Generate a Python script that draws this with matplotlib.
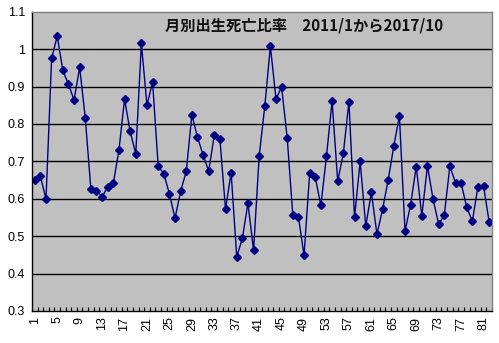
import matplotlib
matplotlib.use("Agg")
import matplotlib.pyplot as plt
import numpy as np

plt.rcParams['font.family'] = ['Liberation Sans', 'DejaVu Sans']

# monthly birth/death ratio, 2011/1 .. 2017/10
months = np.arange(1, 83)
ratio = [
    0.650, 0.660, 0.599, 0.975, 1.035, 0.943, 0.906, 0.864, 0.951, 0.816,
    0.625, 0.622, 0.605, 0.632, 0.641, 0.730, 0.866, 0.780, 0.720, 1.015,
    0.850, 0.912, 0.687, 0.667, 0.613, 0.548, 0.620, 0.673, 0.824, 0.765,
    0.717, 0.674, 0.770, 0.760, 0.572, 0.670, 0.445, 0.494, 0.588, 0.462,
    0.714, 0.847, 1.008, 0.866, 0.899, 0.762, 0.556, 0.551, 0.449, 0.668,
    0.657, 0.582, 0.714, 0.861, 0.647, 0.721, 0.859, 0.550, 0.700, 0.527,
    0.617, 0.505, 0.572, 0.650, 0.741, 0.821, 0.514, 0.584, 0.686, 0.554,
    0.688, 0.599, 0.532, 0.556, 0.688, 0.642, 0.642, 0.577, 0.540, 0.632,
    0.634, 0.538,
]
title = '月別出生死亡比率　2011/1から2017/10'

fig = plt.figure(figsize=(4.99, 3.43), dpi=100)
ax = fig.add_axes([0.0641, 0.0933, 0.9218, 0.8726])
ax.set_facecolor('#c0c0c0')

ax.plot(months, ratio, color='#000080', lw=1.0, marker='D', ms=3.6,
        mfc='#000080', mec='#000080')

ax.set_xlim(0.5, 82.5)
ax.set_ylim(0.3, 1.1)
ax.set_yticks(np.arange(0.3, 1.11, 0.1))
ax.set_yticklabels(['0.3', '0.4', '0.5', '0.6', '0.7', '0.8', '0.9', '1', '1.1'])
for v in np.arange(0.4, 1.01, 0.1):
    ax.axhline(v, color='black', lw=1.0, zorder=0.5)

ax.set_xticks(months[::4])
ax.set_xticklabels([str(m) for m in months[::4]], rotation=90)
ax.set_xticks(np.arange(0.5, 83, 1), minor=True)
ax.tick_params(axis='x', which='major', length=0, pad=4, labelsize=9)
ax.tick_params(axis='x', which='minor', direction='in', length=3, width=0.8)
ax.tick_params(axis='y', length=0, pad=5, labelsize=9)

for s in ['left', 'bottom']:
    ax.spines[s].set_color('black')
    ax.spines[s].set_linewidth(1.0)
for s in ['top', 'right']:
    ax.spines[s].set_color('#808080')
    ax.spines[s].set_linewidth(1.0)

fig.text(0.609, 0.925, title, ha='center', va='center', fontsize=11,
         fontweight='bold', color='#111111',
         family=['Noto Sans CJK JP', 'DejaVu Sans'])

fig.savefig('out.png', dpi=100)
